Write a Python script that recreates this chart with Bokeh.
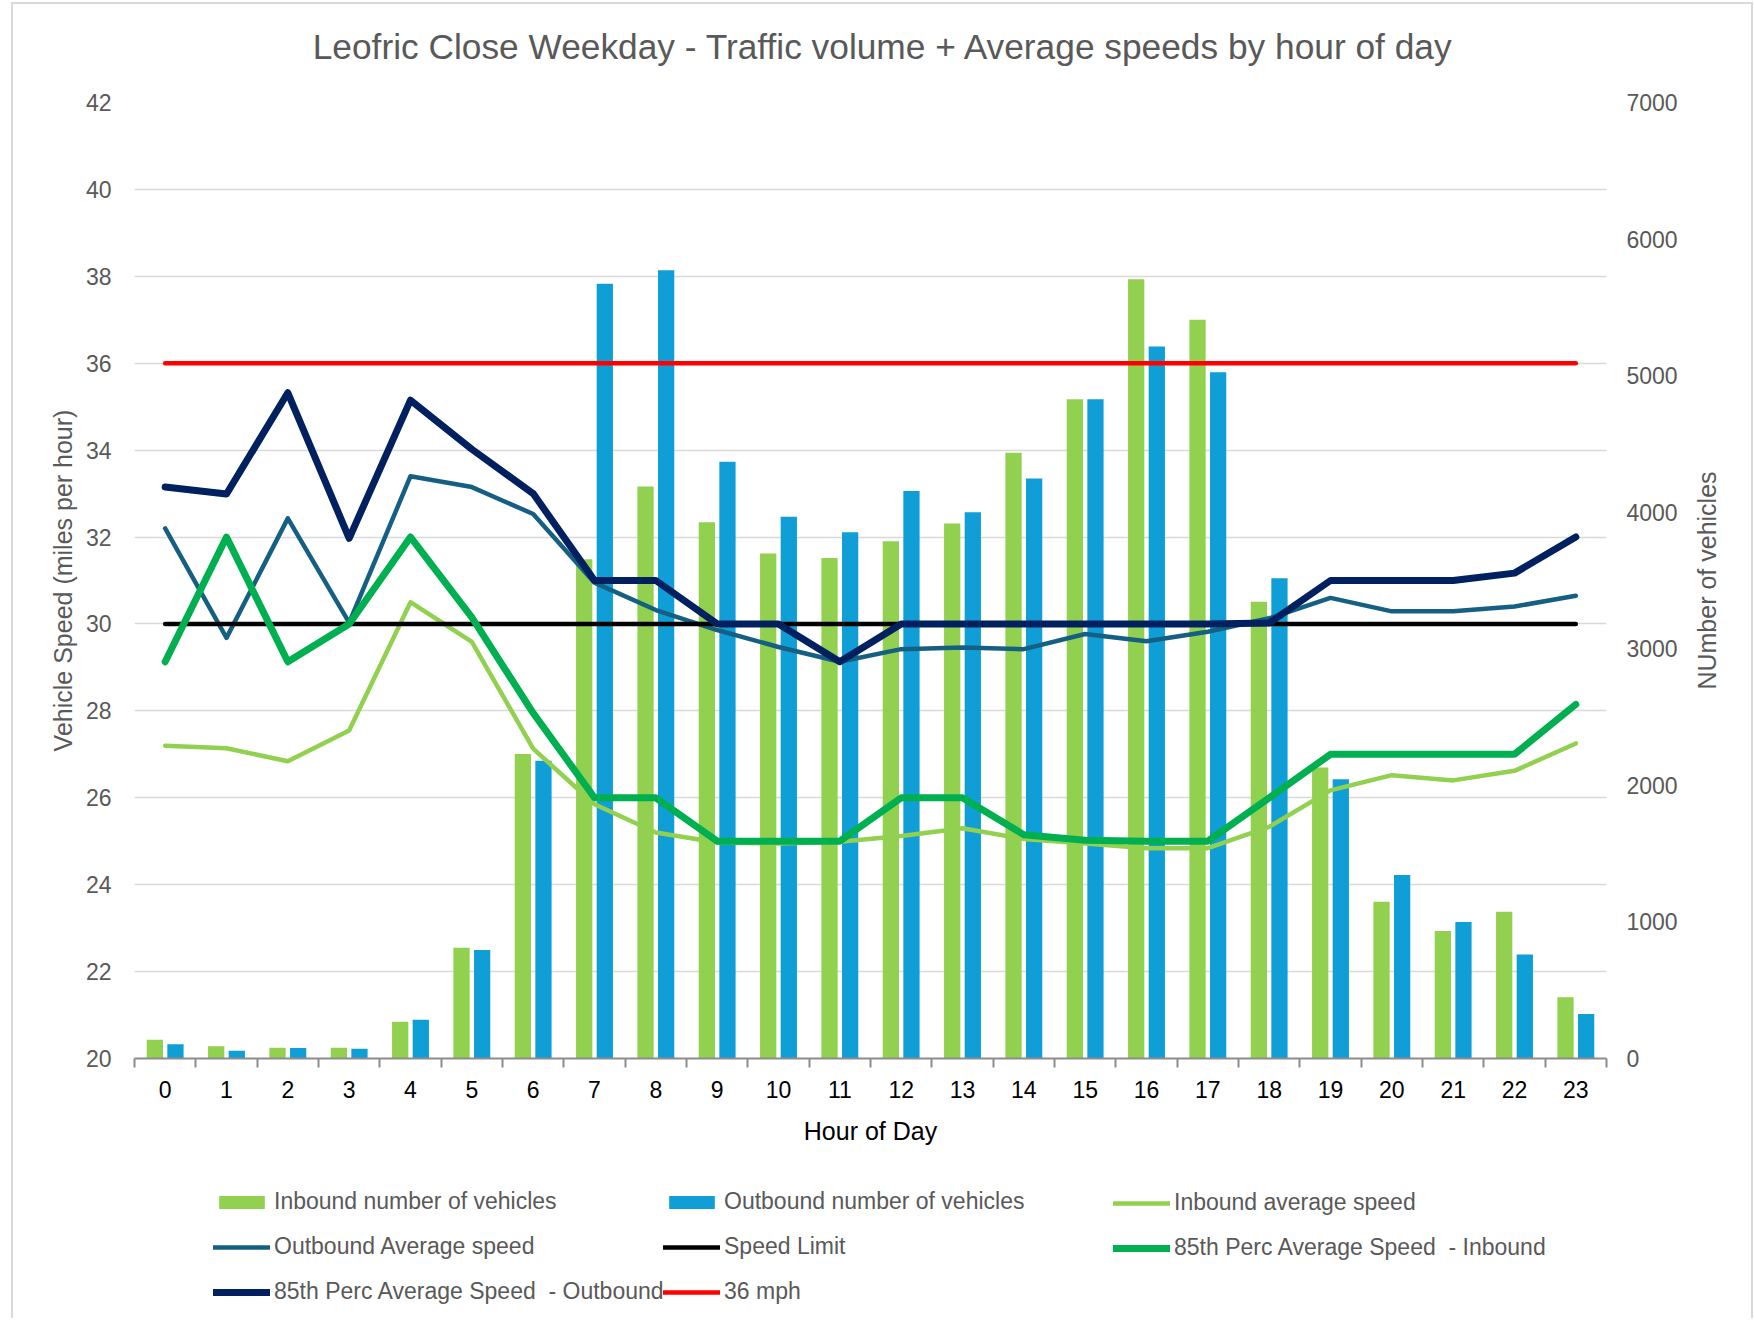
import math
from bokeh.plotting import figure
from bokeh.models import (Range1d, LinearAxis, FixedTicker, Legend, LegendItem,
                          ColumnDataSource, Label)
from bokeh.layouts import column, row
from bokeh.embed import file_html
from bokeh.resources import INLINE

hours = list(range(24))
hour_labels = [str(h) for h in hours]
inbound_vehicles = [137, 90, 78, 78, 269, 811, 2230, 3656, 4189, 3926, 3697, 3664,
                    3787, 3918, 4435, 4828, 5705, 5410, 3344, 2130, 1148, 934, 1074, 449]
outbound_vehicles = [105, 56, 76, 71, 283, 795, 2180, 5672, 5771, 4369, 3967, 3853,
                     4156, 4000, 4246, 4828, 5213, 5025, 3517, 2045, 1344, 1000, 762, 326]
inbound_avg_speed = [27.2, 27.14, 26.84, 27.55, 30.5, 29.59, 27.13, 25.85, 25.2, 24.97,
                     24.95, 24.99, 25.12, 25.3, 25.05, 24.95, 24.84, 24.84, 25.33, 26.17,
                     26.52, 26.4, 26.62, 27.25]
outbound_avg_speed = [32.2, 29.68, 32.43, 30.03, 33.4, 33.15, 32.53, 30.95, 30.32, 29.86,
                      29.47, 29.13, 29.42, 29.46, 29.42, 29.77, 29.6, 29.82, 30.13, 30.6,
                      30.29, 30.29, 30.4, 30.65]
p85_inbound = [29.13, 32.0, 29.13, 30.0, 32.0, 30.15, 27.95, 26.0, 26.0, 25.0, 25.0, 25.0,
               26.0, 26.0, 25.15, 25.02, 25.0, 25.0, 26.0, 27.0, 27.0, 27.0, 27.0, 28.15]
p85_outbound = [33.15, 32.99, 35.32, 31.97, 35.15, 34.02, 33.0, 31.0, 31.0, 30.0, 30.0, 29.13,
                30.0, 30.0, 30.0, 30.0, 30.0, 30.0, 30.02, 31.0, 31.0, 31.0, 31.17, 32.0]
speed_limit = [30, 30, 30, 30, 30, 30, 30, 30, 30, 30, 30, 30,
               30, 30, 30, 30, 30, 30, 30, 30, 30, 30, 30, 30]
limit_36 = [36, 36, 36, 36, 36, 36, 36, 36, 36, 36, 36, 36,
            36, 36, 36, 36, 36, 36, 36, 36, 36, 36, 36, 36]
speed_ticks = [20, 22, 24, 26, 28, 30, 32, 34, 36, 38, 40, 42]
vehicle_ticks = [0, 1000, 2000, 3000, 4000, 5000, 6000, 7000]
title_text = "Leofric Close Weekday - Traffic volume + Average speeds by hour of day"
right_axis_title = "NUmber of vehicles"

FONT = "Liberation Sans"
GRAY = "#595959"
C_IN_BAR = "#92D050"
C_OUT_BAR = "#0F9ED5"
C_IN_AVG = "#92D050"
C_OUT_AVG = "#156082"
C_LIMIT = "#000000"
C_P85_IN = "#00B050"
C_P85_OUT = "#002060"
C_36 = "#FF0000"
W_THIN = 4.5
W_THICK = 7

FULL_W = 1733
SIDE_W = 66
B_LEFT, B_RIGHT_FULL = 121, 140


def blank(fig):
    fig.axis.visible = False
    fig.grid.visible = False
    fig.outline_line_color = None
    fig.border_fill_color = "white"
    fig.background_fill_color = "white"


# ---- title strip
tf = figure(width=FULL_W, height=82, output_backend="svg", toolbar_location=None,
            x_range=Range1d(0, 1), y_range=Range1d(0, 1),
            min_border_left=B_LEFT, min_border_right=B_RIGHT_FULL,
            min_border_top=0, min_border_bottom=0)
blank(tf)
tf.add_layout(Label(x=0.5088, y=0.482, text=title_text, text_font=FONT,
                    text_font_size="35.3px", text_color=GRAY, text_align="center",
                    text_baseline="middle"))

# ---- main chart
p = figure(width=FULL_W - SIDE_W, height=1072, output_backend="svg", toolbar_location=None,
           x_range=Range1d(-0.5, 23.5), y_range=Range1d(20, 42),
           min_border_left=B_LEFT, min_border_right=B_RIGHT_FULL - SIDE_W,
           min_border_top=16, min_border_bottom=100)
p.extra_y_ranges = {"veh": Range1d(0, 7000)}
p.outline_line_color = None
p.background_fill_color = "white"
p.border_fill_color = "white"

src = ColumnDataSource(dict(
    x=hours,
    x_in=[h - 0.168 for h in hours],
    x_out=[h + 0.168 for h in hours],
    inv=inbound_vehicles, outv=outbound_vehicles,
    ia=inbound_avg_speed, oa=outbound_avg_speed,
    sl=speed_limit, pi=p85_inbound, po=p85_outbound, l36=limit_36,
))

bar_style_in = dict(fill_color=C_IN_BAR, line_color=None)
bar_style_out = dict(fill_color=C_OUT_BAR, line_color=None)
lk = dict(line_cap="round", line_join="round")
line_specs = [
    ("ia", C_IN_AVG, W_THIN),
    ("oa", C_OUT_AVG, W_THIN),
    ("sl", C_LIMIT, W_THIN),
    ("pi", C_P85_IN, W_THICK),
    ("po", C_P85_OUT, W_THICK),
    ("l36", C_36, W_THIN),
]

p.vbar(x="x_in", top="inv", bottom=0, width=0.265, source=src, y_range_name="veh", **bar_style_in)
p.vbar(x="x_out", top="outv", bottom=0, width=0.265, source=src, y_range_name="veh", **bar_style_out)
for col, c, w in line_specs:
    p.line("x", col, source=src, line_color=c, line_width=w, **lk)

p.xgrid.visible = False
p.ygrid.ticker = FixedTicker(ticks=speed_ticks)
p.ygrid.grid_line_color = "#D9D9D9"
p.ygrid.grid_line_width = 1.5

xa = p.xaxis[0]
xa.ticker = FixedTicker(ticks=hours, minor_ticks=[h - 0.5 for h in range(25)])
xa.major_label_overrides = {h: lab for h, lab in zip(hours, hour_labels)}
xa.major_tick_line_color = None
xa.minor_tick_line_color = "#8C8C8C"
xa.minor_tick_line_width = 2
xa.minor_tick_out = 9
xa.minor_tick_in = 0
xa.axis_line_color = "#8C8C8C"
xa.axis_line_width = 2
xa.major_label_text_font = FONT
xa.major_label_text_font_size = "23px"
xa.major_label_text_color = "#000000"
xa.major_label_standoff = 13
xa.axis_label = "Hour of Day"
xa.axis_label_text_font = FONT
xa.axis_label_text_font_size = "25px"
xa.axis_label_text_font_style = "normal"
xa.axis_label_text_color = "#000000"
xa.axis_label_standoff = 16

ya = p.yaxis[0]
ya.ticker = FixedTicker(ticks=speed_ticks)
ya.axis_line_color = None
ya.major_tick_line_color = None
ya.minor_tick_line_color = None
ya.major_label_text_font = FONT
ya.major_label_text_font_size = "23px"
ya.major_label_text_color = GRAY
ya.major_label_standoff = 17
ya.axis_label = "Vehicle Speed (miles per hour)"
ya.axis_label_text_font = FONT
ya.axis_label_text_font_size = "25px"
ya.axis_label_text_font_style = "normal"
ya.axis_label_text_color = GRAY
ya.axis_label_standoff = 6

ra = LinearAxis(y_range_name="veh", ticker=FixedTicker(ticks=vehicle_ticks))
ra.axis_line_color = None
ra.major_tick_line_color = None
ra.minor_tick_line_color = None
ra.major_label_text_font = FONT
ra.major_label_text_font_size = "23px"
ra.major_label_text_color = GRAY
ra.major_label_standoff = 14
p.add_layout(ra, "right")

# ---- right strip holding the right axis title (reads bottom to top)
sf = figure(width=SIDE_W, height=1072, output_backend="svg", toolbar_location=None,
            x_range=Range1d(0, 1), y_range=Range1d(0, 1),
            min_border_left=0, min_border_right=0, min_border_top=16, min_border_bottom=100)
blank(sf)
sf.add_layout(Label(x=0.40, y=0.5, text=right_axis_title, text_font=FONT,
                    text_font_size="25px", text_color=GRAY, text_align="center",
                    text_baseline="middle", angle=math.pi / 2, angle_units="rad"))

# ---- legend strip (legend proxies: empty-size bars, lines kept out of its view)
lp = figure(width=FULL_W, height=160, output_backend="svg", toolbar_location=None,
            x_range=Range1d(-0.5, 23.5), y_range=Range1d(-50, -40),
            min_border_left=B_LEFT, min_border_right=B_RIGHT_FULL,
            min_border_top=0, min_border_bottom=0)
blank(lp)

g_in = lp.vbar(x="x_in", top="inv", bottom="inv", width=0, source=src, **bar_style_in)
g_out = lp.vbar(x="x_out", top="outv", bottom="outv", width=0, source=src, **bar_style_out)
g = {}
for col, c, w in line_specs:
    g[col] = lp.line("x", col, source=src, line_color=c, line_width=w, **lk)


def make_legend(items, loc):
    lg = Legend(items=items, location=loc, orientation="vertical",
                label_text_font=FONT, label_text_font_size="23px", label_text_color=GRAY,
                glyph_width=57, glyph_height=16, label_height=26, label_standoff=4,
                spacing=18, padding=0, margin=0, border_line_color=None,
                background_fill_alpha=0)
    lp.add_layout(lg, "center")


make_legend([LegendItem(label="Inbound number of vehicles", renderers=[g_in]),
             LegendItem(label="Outbound Average speed", renderers=[g["oa"]]),
             LegendItem(label="85th Perc Average Speed  - Outbound", renderers=[g["po"]])],
            (79, 13))
make_legend([LegendItem(label="Outbound number of vehicles", renderers=[g_out]),
             LegendItem(label="Speed Limit", renderers=[g["sl"]]),
             LegendItem(label="36 mph", renderers=[g["l36"]])],
            (529, 13))
make_legend([LegendItem(label="Inbound average speed", renderers=[g["ia"]]),
             LegendItem(label="85th Perc Average Speed  - Inbound", renderers=[g["pi"]])],
            (979, 57))

root = column(tf, row(p, sf, spacing=0), lp, spacing=0,
              styles={"margin-left": "11px", "margin-top": "2px",
                      "border-left": "2px solid #D9D9D9", "border-top": "2px solid #D9D9D9",
                      "border-right": "2px solid #D9D9D9", "padding-right": "5px"})
open("out.html", "w").write(file_html(root, INLINE))
